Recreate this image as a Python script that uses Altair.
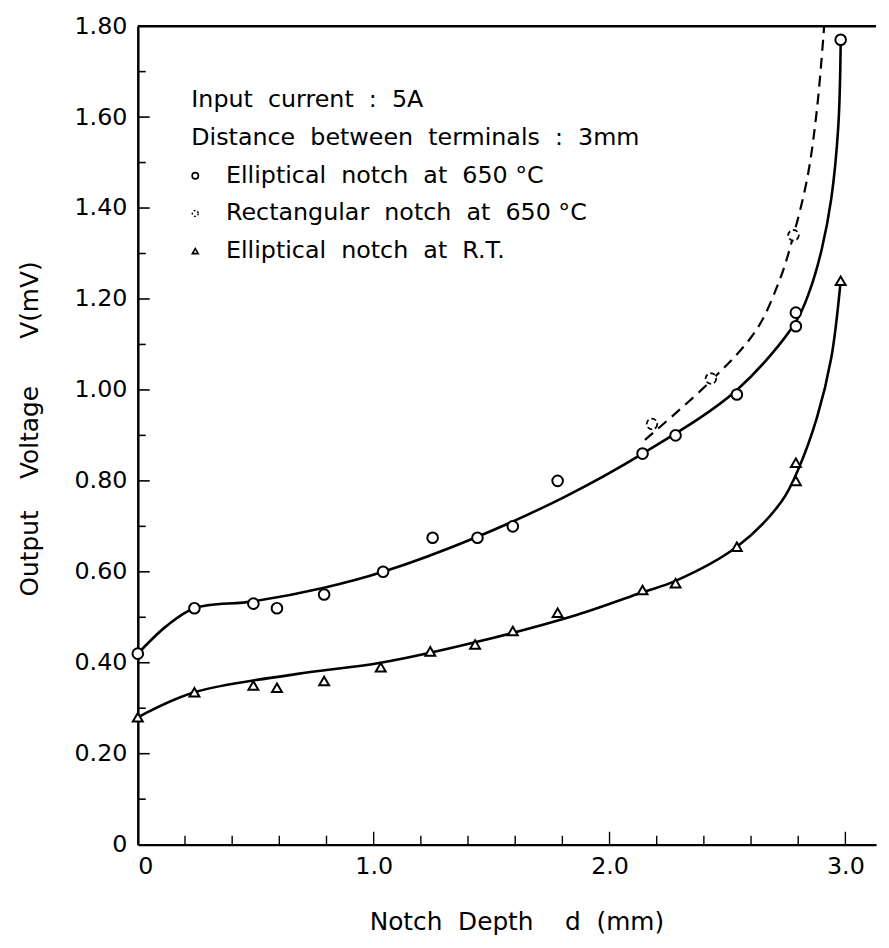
import altair as alt
import pandas as pd

FONT = "DejaVu Sans"
NB = "\u00a0"

# ---- data ----
# Elliptical notch at 650 C (open circles)
ell_d = [0.0, 0.24, 0.49, 0.59, 0.79, 1.04, 1.25, 1.44, 1.59, 1.78, 2.14, 2.28, 2.54, 2.79, 2.79, 2.98]
ell_v = [0.42, 0.52, 0.53, 0.52, 0.55, 0.60, 0.675, 0.675, 0.70, 0.80, 0.86, 0.90, 0.99, 1.14, 1.17, 1.77]
# Rectangular notch at 650 C (dotted circles)
rect_d = [2.18, 2.43, 2.78]
rect_v = [0.925, 1.025, 1.34]
# Elliptical notch at R.T. (triangles)
rt_d = [0.0, 0.24, 0.49, 0.59, 0.79, 1.03, 1.24, 1.43, 1.59, 1.78, 2.14, 2.28, 2.54, 2.79, 2.79, 2.98]
rt_v = [0.28, 0.335, 0.35, 0.345, 0.36, 0.39, 0.425, 0.44, 0.47, 0.51, 0.56, 0.575, 0.655, 0.80, 0.84, 1.24]

# hand-drawn fitted curves (traced)
ell_curve_d = [0.0, 0.12, 0.24, 0.49, 0.79, 1.04, 1.43, 1.81, 2.14, 2.54, 2.79, 2.85, 2.90, 2.94, 2.97, 2.98]
ell_curve_v = [0.42, 0.48, 0.52, 0.535, 0.565, 0.60, 0.675, 0.765, 0.86, 1.00, 1.15, 1.22, 1.31, 1.42, 1.58, 1.76]
rect_curve_d = [2.15, 2.43, 2.62, 2.72, 2.78, 2.84, 2.88, 2.91]
rect_curve_v = [0.89, 1.02, 1.13, 1.24, 1.34, 1.47, 1.62, 1.80]
rt_curve_d = [0.0, 0.24, 0.67, 1.03, 1.43, 1.86, 2.14, 2.28, 2.54, 2.73, 2.80, 2.88, 2.94, 2.98]
rt_curve_v = [0.28, 0.335, 0.375, 0.40, 0.445, 0.505, 0.555, 0.58, 0.655, 0.755, 0.825, 0.94, 1.07, 1.24]

# axis ticks / labels
y_label_vals = [0, 0.2, 0.4, 0.6, 0.8, 1.0, 1.2, 1.4, 1.6, 1.8]
y_major_ticks = [0.2, 0.4, 0.6, 0.8, 1.0, 1.2, 1.4, 1.6]
y_minor_ticks = [0.1, 0.3, 0.5, 0.7, 0.9, 1.1, 1.3, 1.5, 1.7]
x_label_vals = [0, 1, 2, 3]
x_minor_ticks = [0.2, 0.4, 0.6, 0.8, 1.2, 1.4, 1.6, 1.8, 2.2, 2.4, 2.6, 2.8]
x_major_ticks = [1.0, 2.0, 3.0]

S2 = NB * 2
legend_head = [f"Input{S2}current{S2}:{S2}5A",
               f"Distance{S2}between{S2}terminals{S2}:{S2}3mm"]
legend_items = [f"Elliptical{S2}notch{S2}at{S2}650{NB}°C",
                f"Rectangular{S2}notch{S2}at{S2}650{NB}°C",
                f"Elliptical{S2}notch{S2}at{S2}R.T."]
x_title = f"Notch{S2}Depth{NB * 4}d{S2}(mm)"
y_title = f"Output{NB * 4}Voltage{NB * 6}V(mV)"

W, H = 745, 826

X = alt.X("d:Q", scale=alt.Scale(domain=[0, 3.13], nice=False, zero=False),
          axis=alt.Axis(values=x_label_vals,
                        labelExpr="datum.value == 0 ? '0' : format(datum.value, '.1f')",
                        ticks=False, grid=False, domainWidth=2.5, domainColor="black",
                        labelFontSize=24, labelFont=FONT, labelColor="black", labelPadding=10,
                        title=x_title, titleFont=FONT, titleFontSize=25,
                        titleFontWeight="normal", titleColor="black",
                        titleX=382, titleY=78, titleBaseline="middle"))
Y = alt.Y("v:Q", scale=alt.Scale(domain=[0, 1.8], nice=False),
          axis=alt.Axis(values=y_label_vals,
                        labelExpr="datum.value == 0 ? '0' : format(datum.value, '.2f')",
                        ticks=False, grid=False, domainWidth=2.5, domainColor="black",
                        labelFontSize=24, labelFont=FONT, labelColor="black", labelPadding=11,
                        title=y_title, titleFont=FONT, titleFontSize=25,
                        titleFontWeight="normal", titleColor="black",
                        titleX=-109, titleY=406, titleBaseline="middle"))


def df(d, v):
    return pd.DataFrame({"d": d, "v": v})


one = pd.DataFrame({"a": [0]})

layers = []

# curves
layers.append(alt.Chart(df(ell_curve_d, ell_curve_v)).mark_line(
    interpolate="catmull-rom", color="black", strokeWidth=2.6).encode(x=X, y=Y))
layers.append(alt.Chart(df(rt_curve_d, rt_curve_v)).mark_line(
    interpolate="catmull-rom", color="black", strokeWidth=2.6).encode(x=X, y=Y))
layers.append(alt.Chart(df(rect_curve_d, rect_curve_v)).mark_line(
    interpolate="catmull-rom", color="black", strokeWidth=2.2, strokeDash=[11, 7]).encode(x=X, y=Y))

# points
layers.append(alt.Chart(df(ell_d, ell_v)).mark_point(
    shape="circle", filled=True, color="white", stroke="black", strokeWidth=2,
    size=115, opacity=1).encode(x=X, y=Y))
layers.append(alt.Chart(df(rect_d, rect_v)).mark_point(
    shape="circle", filled=True, color="white", stroke="black", strokeWidth=1.8,
    strokeDash=[5, 3], size=115, opacity=1).encode(x=X, y=Y))
layers.append(alt.Chart(df(rt_d, rt_v)).mark_point(
    shape="triangle-up", filled=True, color="white", stroke="black", strokeWidth=2,
    size=100, opacity=1).encode(x=X, y=Y))

# inward ticks on the y axis
layers.append(alt.Chart(pd.DataFrame({"v": y_major_ticks})).mark_rule(
    color="black", strokeWidth=1.6).encode(y=Y, x=alt.value(0), x2=alt.value(12)))
layers.append(alt.Chart(pd.DataFrame({"v": y_minor_ticks})).mark_rule(
    color="black", strokeWidth=1.6).encode(y=Y, x=alt.value(0), x2=alt.value(8)))
# inward ticks on the x axis
layers.append(alt.Chart(pd.DataFrame({"d": x_minor_ticks})).mark_rule(
    color="black", strokeWidth=1.4).encode(x=X, y=alt.value(H), y2=alt.value(H - 9)))
layers.append(alt.Chart(pd.DataFrame({"d": x_major_ticks})).mark_rule(
    color="black", strokeWidth=1.4).encode(x=X, y=alt.value(H), y2=alt.value(H - 13)))
# top frame line
layers.append(alt.Chart(one).mark_rule(color="black", strokeWidth=2.5).encode(
    x=alt.value(0), x2=alt.value(W), y=alt.value(0)))

# legend block
for i, s in enumerate(legend_head):
    layers.append(alt.Chart(pd.DataFrame({"t": [s]})).mark_text(
        font=FONT, fontSize=24, align="left", baseline="middle", color="black").encode(
        text="t:N", x=alt.value(54), y=alt.value(75 + 38 * i)))
for i, s in enumerate(legend_items):
    layers.append(alt.Chart(pd.DataFrame({"t": [s]})).mark_text(
        font=FONT, fontSize=24, align="left", baseline="middle", color="black").encode(
        text="t:N", x=alt.value(89), y=alt.value(151 + 38 * i)))

layers.append(alt.Chart(one).mark_point(shape="circle", filled=False, color="black",
                                        strokeWidth=1.6, size=40, opacity=1).encode(
    x=alt.value(58), y=alt.value(151)))
layers.append(alt.Chart(one).mark_point(shape="circle", filled=False, color="black",
                                        strokeWidth=1.4, strokeDash=[2, 2], size=36, opacity=1).encode(
    x=alt.value(58), y=alt.value(189)))
layers.append(alt.Chart(one).mark_point(shape="triangle-up", filled=False, color="black",
                                        strokeWidth=1.6, size=36, opacity=1).encode(
    x=alt.value(58), y=alt.value(227)))

chart = alt.layer(*layers).properties(
    width=W, height=H,
    autosize=alt.AutoSizeParams(type="none"),
    padding={"left": 131, "top": 14, "right": 5, "bottom": 100},
    background="white",
).configure(font=FONT).configure_view(stroke=None)

chart.save("out.html", embed_options={"renderer": "svg", "actions": False})
